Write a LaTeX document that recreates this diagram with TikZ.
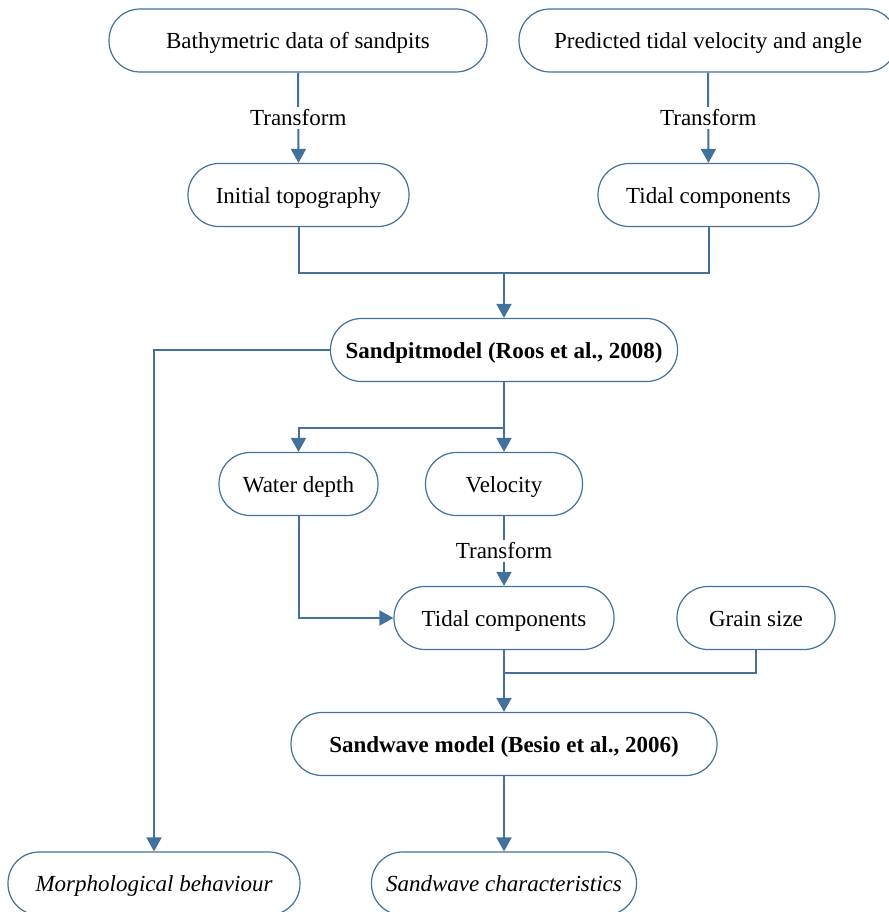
\documentclass[tikz,border=0pt]{standalone}
\usepackage{fontspec}
\setmainfont{Liberation Serif}
\usepackage{xcolor}
\usepackage{tikz}
\usetikzlibrary{arrows.meta, positioning, calc}
\definecolor{flowblue}{RGB}{65,113,156}
\tikzset{
  stadium/.style={
    rectangle, rounded corners=31pt, minimum height=63pt, inner sep=0pt,
    text height=20pt, text depth=4pt,
    draw=flowblue, line width=1.2pt, fill=white, text centered,
    font=\fontsize{23}{27}\selectfont, text=black
  },
  modelbox/.style={stadium, font=\fontsize{23}{27}\selectfont\bfseries},
  resultbox/.style={stadium, font=\fontsize{23}{27}\selectfont\itshape},
  flowline/.style={line width=2pt, color=flowblue},
  arrow/.style={-{Triangle[length=14pt, width=15pt]}, line width=2pt, color=flowblue},
  steplabel/.style={fill=white, inner sep=3pt, font=\fontsize{23}{27}\selectfont, text=black}
}
\begin{document}
\begin{tikzpicture}[x=1pt, y=-1pt]
  \useasboundingbox (0,0) rectangle (888,912);

  % Inputs
  \node[stadium, minimum width=378pt] (bathy) at (298,40.5) {Bathymetric data of sandpits};
  \node[stadium, minimum width=378pt] (pred) at (708,40.5) {Predicted tidal velocity and angle};
  \node[stadium, minimum width=221pt] (topo) at (298.5,195) {Initial topography};
  \node[stadium, minimum width=221pt] (tideA) at (708.5,195) {Tidal components};

  % Sandpit model and its outputs
  \node[modelbox, minimum width=347pt] (sandpit) at (504,350) {Sandpitmodel (Roos et al., 2008)};
  \node[stadium, minimum width=159pt] (depth) at (298.5,484) {Water depth};
  \node[stadium, minimum width=157pt] (vel) at (504,484) {Velocity};
  \node[stadium, minimum width=220pt] (tideB) at (504,618) {Tidal components};
  \node[stadium, minimum width=158pt] (grain) at (756,618) {Grain size};

  % Sandwave model and results
  \node[modelbox, minimum width=426pt] (sandwave) at (504,744) {Sandwave model (Besio et al., 2006)};
  \node[resultbox, minimum width=292pt] (morph) at (154,883.5) {Morphological behaviour};
  \node[resultbox, minimum width=265pt] (wavechar) at (504,883.5) {Sandwave characteristics};

  % Junctions
  \coordinate (joinA) at (504,273);
  \coordinate (splitA) at (504,428);
  \coordinate (joinB) at (504,673);

  % Arrows
  \draw[arrow] (bathy.south) -- node[steplabel]{Transform} (topo.north);
  \draw[arrow] (pred.south) -- node[steplabel]{Transform} (tideA.north);
  \draw[flowline] (topo.south) |- (joinA) -| (tideA.south);
  \draw[arrow] (joinA) -- (sandpit.north);
  \draw[arrow] (sandpit.west) -| (morph.north);
  \draw[flowline] (sandpit.south) -- (splitA);
  \draw[arrow] (splitA) -| (depth.north);
  \draw[arrow] (splitA) -- (vel.north);
  \draw[arrow] (vel.south) -- node[steplabel]{Transform} (tideB.north);
  \draw[arrow] (depth.south) |- (tideB.west);
  \draw[flowline] (grain.south) |- (joinB);
  \draw[arrow] (tideB.south) -- (sandwave.north);
  \draw[arrow] (sandwave.south) -- (wavechar.north);
\end{tikzpicture}
\end{document}
